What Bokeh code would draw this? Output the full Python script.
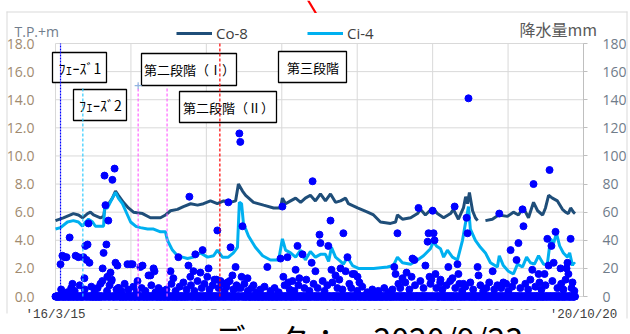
import numpy as np
import pandas as pd
from bokeh.plotting import figure
from bokeh.models import (Range1d, LinearAxis, FixedTicker, PrintfTickFormatter, Label,
                          BoxAnnotation, PolyAnnotation, Legend, LegendItem)
from bokeh.embed import file_html
from bokeh.resources import INLINE

# ---------------- data ----------------
BASE_DATE = "2016-03-15"          # day 0 of every *_day array
DATA_END_DAY = 1653               # 2020/9/23, last observation

x_tick_dates = ["2016-03-15", "2016-11-10", "2017-07-08", "2018-03-05",
                "2018-10-31", "2019-06-28", "2020-02-23", "2020-10-20"]
x_tick_labels = ["'16/3/15", "'16/11/10", "'17/7/8", "'18/3/5",
                 "'18/10/31", "'19/6/28", "'20/2/23", "'20/10/20"]
left_ticks = [0, 2, 4, 6, 8, 10, 12, 14, 16, 18]
right_ticks = [0, 20, 40, 60, 80, 100, 120, 140, 160, 180]

nan = float("nan")
# Co-8 groundwater level (T.P.+m)
co8_day = [0, 25, 57, 73, 86, 102, 111, 121, 143, 153, 159, 169, 181, 191, 200, 216, 232, 248, 277, 302,
           334, 350, 366, 388, 407, 430, 452, 471, 493, 515, 535, 557, 573, 582, 595, 605, 630, 662, 694, 716,
           722, 732, 748, 764, 780, 795, 811, 827, 843, 859, 875, 891, 907, 923, 932, 961, 993, 1012, 1034, 1066,
           1082, 1088, 1104, 1130, 1152, 1161, 1177, 1200, 1215, 1235, 1257, 1266, 1282, 1298, 1305, 1311, 1317, 1327, 1336, 1343,
           1355, 1368, 1390, 1410, 1438, 1457, 1473, 1489, 1505, 1521, 1534, 1550, 1559, 1569, 1581, 1597, 1613, 1623, 1632, 1639,
           1648, 1653]
co8_m = [5.4, 5.6, 5.9, 5.8, 5.6, 5.9, 6.0, 5.8, 5.6, 5.7, 6.5, 6.6, 7.0, 7.5, 7.2, 6.7, 6.3, 6.0, 5.9, 5.6,
         5.6, 5.8, 6.1, 6.2, 6.4, 6.6, 6.5, 6.6, 6.8, 6.6, 6.8, 6.7, 6.8, 8.0, 7.5, 7.2, 6.7, 6.5, 6.3, 6.3,
         7.0, 6.6, 6.8, 7.0, 6.7, 7.0, 7.2, 6.8, 7.3, 6.8, 7.3, 6.7, 6.8, 7.0, 6.6, 6.3, 6.0, 5.8, 5.3, 5.2,
         5.3, 5.8, 5.5, 5.6, 5.9, 6.2, 5.8, 6.3, 5.9, 5.6, 5.9, 6.2, 5.5, 6.3, 7.1, 6.6, 7.4, 6.1, 5.6, 5.4,
         nan, 5.4, 5.5, 5.8, 5.7, 6.0, 5.8, 6.3, 5.6, 6.7, 6.1, 5.8, 6.3, 7.2, 7.0, 6.8, 6.2, 6.0, 5.9, 6.3,
         6.0, 5.9]
# Ci-4 groundwater level (T.P.+m)
ci4_day = [0, 16, 38, 57, 73, 86, 95, 105, 118, 127, 143, 153, 156, 165, 181, 191, 200, 213, 223, 239,
           255, 270, 293, 312, 334, 350, 356, 372, 388, 404, 420, 439, 461, 484, 503, 515, 531, 550, 566, 579,
           585, 592, 598, 614, 636, 659, 684, 710, 722, 732, 748, 764, 780, 795, 811, 827, 843, 859, 869, 878,
           891, 907, 916, 929, 945, 964, 1012, 1056, 1075, 1088, 1104, 1130, 1152, 1171, 1193, 1203, 1212, 1225, 1235, 1247,
           1263, 1279, 1295, 1302, 1314, 1320, 1336, 1352, 1368, 1384, 1406, 1412, 1425, 1441, 1457, 1470, 1486, 1499, 1511, 1524,
           1537, 1553, 1565, 1575, 1585, 1594, 1604, 1616, 1629, 1636, 1645, 1648, 1653]
ci4_m = [4.8, 4.9, 5.3, 5.4, 5.3, 5.0, 5.3, 5.5, 5.3, 5.0, 5.0, 5.0, 6.3, 6.3, 7.0, 7.4, 7.0, 6.6, 6.1, 5.3,
         5.0, 4.9, 4.8, 4.8, 4.6, 4.6, 4.0, 3.3, 2.9, 2.8, 2.7, 2.8, 3.1, 2.8, 2.9, 3.3, 2.8, 2.8, 3.1, 3.5,
         6.7, 6.6, 5.2, 4.3, 3.5, 2.9, 2.6, 2.6, 4.1, 3.3, 3.1, 2.8, 3.3, 2.6, 3.2, 2.8, 3.0, 3.0, 2.5, 3.5,
         2.8, 2.5, 2.3, 2.8, 2.2, 2.0, 2.0, 2.1, 2.2, 2.8, 2.4, 2.3, 2.6, 2.9, 3.4, 3.9, 3.6, 3.4, 2.8, 3.3,
         2.8, 2.6, 4.0, 4.9, 6.4, 4.8, 4.0, 3.5, 3.1, 2.4, 2.1, 2.9, 2.2, 1.8, 1.6, 2.3, 2.1, 2.8, 2.4, 2.3,
         2.9, 2.3, 2.3, 4.1, 3.8, 4.5, 3.6, 3.1, 2.8, 3.1, 2.2, 2.4, 2.3]

# daily precipitation (mm): rainy days as (day, mm); every other observed day recorded 0 mm
rain_heavy = [(16, 23), (22, 29), (29, 28), (35, 28), (45, 42), (54, 9), (64, 29), (73, 28), (89, 28), (92, 13),
              (95, 36), (99, 26), (102, 37), (105, 52), (108, 24), (150, 20), (153, 31), (156, 86), (159, 65), (162, 37),
              (165, 14), (168, 54), (175, 17), (178, 11), (181, 83), (188, 91), (191, 24), (197, 22), (200, 6),
              (229, 23), (239, 23), (245, 23), (261, 11), (270, 21), (277, 22), (296, 15), (302, 15), (312, 20), (315, 18),
              (366, 18), (375, 13), (391, 28), (423, 22), (426, 71), (429, 14), (439, 18), (445, 30), (461, 17), (468, 33),
              (483, 14), (487, 20), (512, 12), (515, 47), (525, 11), (528, 10), (547, 10), (550, 67), (557, 35), (563, 15),
              (573, 21), (579, 6), (585, 116), (588, 110), (592, 14), (595, 50), (611, 13), (630, 8),
              (674, 21), (716, 27), (722, 64), (725, 14), (738, 28), (741, 10), (764, 19), (770, 36), (776, 13), (786, 30),
              (815, 24), (818, 82), (827, 18), (840, 44), (843, 38), (868, 36), (875, 54), (878, 19), (891, 15), (907, 20),
              (916, 45), (923, 18), (929, 28), (945, 16), (951, 16), (961, 14), (967, 10),
              (1078, 21), (1082, 16), (1088, 45), (1104, 13), (1117, 17), (1133, 14), (1136, 27), (1142, 26), (1155, 63),
              (1177, 22), (1184, 39), (1187, 45), (1190, 14), (1200, 61), (1203, 45), (1206, 40), (1209, 16), (1225, 12),
              (1250, 21), (1263, 13), (1270, 64), (1279, 23), (1282, 16), (1298, 9), (1308, 56), (1311, 45), (1314, 141),
              (1343, 21), (1346, 15), (1391, 18), (1412, 59), (1425, 10), (1448, 33), (1467, 26), (1473, 38), (1486, 62),
              (1489, 50), (1517, 19), (1521, 80), (1537, 16), (1556, 16), (1565, 41), (1569, 22), (1572, 90), (1578, 36),
              (1585, 24), (1591, 46), (1607, 20), (1626, 20), (1629, 24), (1632, 16), (1639, 41), (1645, 10)]
rain_light = [(18, 5), (37, 3), (50, 6), (61, 4), (77, 8), (93, 5), (114, 7), (124, 3), (134, 6), (143, 9),
              (149, 11), (164, 4), (172, 8), (179, 12), (194, 5), (201, 6), (210, 4), (220, 9), (232, 5), (248, 7),
              (258, 3), (274, 6), (286, 4), (305, 8), (318, 3), (328, 6), (340, 4), (353, 5), (369, 9), (382, 4),
              (395, 7), (407, 10), (417, 5), (431, 8), (442, 4), (452, 11), (465, 6), (474, 9), (490, 5), (500, 8),
              (506, 12), (519, 6), (532, 9), (538, 4), (544, 7), (554, 11), (566, 5), (576, 8), (589, 6), (601, 9),
              (612, 4), (624, 6), (640, 3), (652, 5), (665, 7), (684, 4), (697, 6), (710, 3), (729, 8), (745, 5),
              (754, 11), (760, 4), (773, 8), (792, 6), (798, 12), (808, 4), (821, 9), (834, 6), (850, 11), (856, 4),
              (865, 8), (881, 10), (897, 6), (903, 12), (913, 5), (935, 9), (941, 6), (960, 4), (976, 7), (992, 3),
              (1008, 5), (1027, 4), (1046, 6), (1059, 3), (1072, 5), (1091, 9), (1097, 6), (1113, 10), (1126, 5), (1144, 8),
              (1161, 11), (1171, 6), (1193, 9), (1196, 12), (1212, 6), (1224, 10), (1231, 5), (1244, 8), (1256, 11), (1272, 6),
              (1285, 9), (1294, 4), (1304, 7), (1320, 10), (1329, 5), (1352, 8), (1361, 4), (1371, 6), (1380, 10), (1396, 5),
              (1406, 8), (1418, 6), (1434, 9), (1441, 4), (1453, 7), (1460, 11), (1479, 6), (1495, 9), (1504, 5), (1511, 12),
              (1527, 7), (1540, 10), (1546, 5), (1559, 8), (1581, 11), (1597, 6), (1609, 9), (1616, 5), (1623, 12), (1642, 6),
              (1651, 4)]

# phase boundary lines: day, top of line (m)
event_day = [16, 87, 263, 355, 523]
event_top = [18.0, 14.9, 15.1, 14.9, 18.0]
marker_day = [263]
marker_m = [15.0]

phase_texts = ["ﾌｪｰｽﾞ1", "ﾌｪｰｽﾞ2", "第二段階（Ⅰ）", "第二段階（Ⅱ）", "第三段階"]
series_names = ["Co-8", "Ci-4"]
axis_titles = ["T.P.+m", "降水量mm"]
caption = "データ：～2020/9/23"

# ---------------- layout geometry (pixels) ----------------
W, H = 630, 334
AREA_L, AREA_R, AREA_T, AREA_B = 55, 583, 43, 296   # plot area: first/last x tick, y=18 / y=0

base = pd.Timestamp(BASE_DATE)
def to_dt(days):
    return (base + pd.to_timedelta(np.asarray(days, dtype=float), unit="D")).values

span_days = (pd.Timestamp(x_tick_dates[-1]) - pd.Timestamp(x_tick_dates[0])).days
y_top = left_ticks[-1]
px_day = (AREA_R - AREA_L) / span_days
px_m = (AREA_B - AREA_T) / y_top
x_start = base + pd.Timedelta(days=-AREA_L / px_day)
x_end = base + pd.Timedelta(days=span_days + (W - AREA_R) / px_day)
y_start = -(H - AREA_B) / px_m
y_end = y_top + AREA_T / px_m
rain_scale = right_ticks[-1] / left_ticks[-1]

rain_day = [d for d, _ in rain_heavy + rain_light]
rain_mm = [v for _, v in rain_heavy + rain_light]
dry_day = sorted(set(range(0, DATA_END_DAY + 1)) - set(rain_day))
dry_mm = [0] * len(dry_day)

# ---------------- figure ----------------
p = figure(width=W, height=H, x_axis_type="datetime", output_backend="svg", toolbar_location=None,
           x_range=Range1d(start=x_start, end=x_end), y_range=Range1d(y_start, y_end), title=None,
           min_border_left=0, min_border_right=0, min_border_top=0, min_border_bottom=0)
p.outline_line_color = None
p.background_fill_color = "white"
p.border_fill_color = "white"
p.extra_y_ranges = {"rain": Range1d(y_start * rain_scale, y_end * rain_scale)}
p.xgrid.visible = False
p.ygrid.visible = False

GRID = "#D9D9D9"
tick_ms = [int(pd.Timestamp(d).value // 10**6) for d in x_tick_dates]
tick_days = [(pd.Timestamp(d) - base).days for d in x_tick_dates]
# grid lines limited to the plot area
p.segment(x0=to_dt(tick_days), y0=[0] * len(tick_days), x1=to_dt(tick_days), y1=[y_top] * len(tick_days),
          line_color=GRID, line_width=1, level="underlay")
p.segment(x0=to_dt([0] * len(left_ticks)), y0=left_ticks, x1=to_dt([span_days] * len(left_ticks)), y1=left_ticks,
          line_color=GRID, line_width=1, level="underlay")

xa = p.xaxis[0]
xa.fixed_location = -4 / px_m
xa.ticker = FixedTicker(ticks=tick_ms)
xa.major_label_overrides = {t: lab for t, lab in zip(tick_ms, x_tick_labels)}
xa.axis_line_color = None
xa.major_tick_line_color = None
xa.minor_tick_line_color = None
xa.major_label_standoff = 1
xa.major_label_text_font = "Liberation Mono"
xa.major_label_text_font_size = "12.5px"
xa.major_label_text_color = "#404040"

ya = p.yaxis[0]
ya.fixed_location = tick_ms[0]
ya.ticker = FixedTicker(ticks=left_ticks)
ya.formatter = PrintfTickFormatter(format="%.1f")
ya.axis_line_color = None
ya.major_tick_line_color = None
ya.minor_tick_line_color = None
ya.major_label_standoff = 15
ya.major_label_text_font = "Open Sans"
ya.major_label_text_font_size = "14px"
ya.major_label_text_color = "#A08A70"

yr = LinearAxis(y_range_name="rain", ticker=FixedTicker(ticks=right_ticks),
                fixed_location=tick_ms[-1], bounds=(right_ticks[0], right_ticks[-1]))
yr.axis_line_color = "#BFBFBF"
yr.major_tick_line_color = "#BFBFBF"
yr.major_tick_out = 4
yr.major_tick_in = 0
yr.minor_tick_line_color = None
yr.major_label_standoff = 15
yr.major_label_text_font = "Open Sans"
yr.major_label_text_font_size = "14px"
yr.major_label_text_color = "#707C8A"
p.add_layout(yr, "right")

# ---------------- data glyphs ----------------
r_co8 = p.line(to_dt(co8_day), co8_m, line_color="#1F4E79", line_width=3)
r_ci4 = p.line(to_dt(ci4_day), ci4_m, line_color="#00B0F0", line_width=3)
p.scatter(to_dt(dry_day), dry_mm, y_range_name="rain", size=7, color="#0000FF")
p.scatter(to_dt(rain_day), rain_mm, y_range_name="rain", size=7, color="#0000FF")

# ---------------- helpers in screen pixels (origin bottom-left of canvas) ----------------
def box(l, r, t, b, fill="white", line="black", lw=1.3):
    p.add_layout(BoxAnnotation(left=l, right=r, top=H - t, bottom=H - b,
                               left_units="screen", right_units="screen",
                               top_units="screen", bottom_units="screen",
                               fill_color=fill, fill_alpha=1.0 if fill else 0,
                               line_color=line, line_alpha=1.0, line_width=lw))

def txt(x, y, s, size, font="Noto Sans CJK JP", color="black", align="center", baseline="middle"):
    p.add_layout(Label(x=x, y=H - y, x_units="screen", y_units="screen", text=s,
                       text_align=align, text_baseline=baseline, text_font=font,
                       text_font_size=size, text_color=color))

# outer chart border (left, top, right edges)
box(6, 7, 11, 313, fill="#D9D9D9", line=None)
box(6, 627, 11, 12, fill="#D9D9D9", line=None)
box(626, 627, 11, 318, fill="#D9D9D9", line=None)

# phase boxes
box_geo = [(52, 106, 52, 82), (73, 126, 89, 120), (141, 236, 53, 85), (179, 276, 91, 122), (278, 346, 51, 82)]
for (l, r, t, b), s in zip(box_geo, phase_texts):
    box(l, r, t, b)
    txt((l + r) / 2 + 0.5, (t + b) / 2, s, "14px" if s.startswith("ﾌ") else "13px")

ev_colors = ["#0000FF", "#33CCFF", "#FF66FF", "#FF66FF", "#FF0000"]
ev_dash = ["2 1", "3 2", "3 2", "3 2", "3 2"]
for d, top, c, dash in zip(event_day, event_top, ev_colors, ev_dash):
    p.segment(x0=to_dt([d]), y0=[0], x1=to_dt([d]), y1=[top], line_color=c,
              line_width=1.2, line_dash=dash, level="overlay")
p.scatter(to_dt(marker_day), marker_m, marker="cross", size=7, line_color="#8FB8E0",
          line_width=1.2, level="overlay")

# axis titles
txt(14, 31, axis_titles[0], "14px", font="Open Sans", color="#717D8C", align="left")
txt(519, 28, axis_titles[1], "16px", font="Noto Sans CJK JP", color="#595959", align="left")

# legend
legend = Legend(items=[LegendItem(label=series_names[0], renderers=[r_co8]),
                       LegendItem(label=series_names[1], renderers=[r_ci4])],
                orientation="horizontal", location=(176, H - 43), padding=0, margin=0,
                spacing=51, glyph_width=36, glyph_height=20, label_height=20, label_width=40,
                label_standoff=4, label_text_font="Open Sans", label_text_font_size="15px",
                label_text_color="#404040", border_line_color=None, background_fill_alpha=0)
p.add_layout(legend, "center")

# red pointer stroke at the top edge
p.add_layout(PolyAnnotation(xs=[306.5, 309, 316.5, 314], ys=[H, H, H - 12.5, H - 12.5],
                            xs_units="screen", ys_units="screen",
                            fill_color="#FF0000", fill_alpha=1, line_color=None))

# caption over the bottom (cut by the window edge, as in the original screenshot)
box(88, 552, 309, 340, fill="white", line=None)
txt(213, 337, caption, "32px", align="left", baseline="alphabetic")

open("out.html", "w").write(file_html(p, INLINE))
